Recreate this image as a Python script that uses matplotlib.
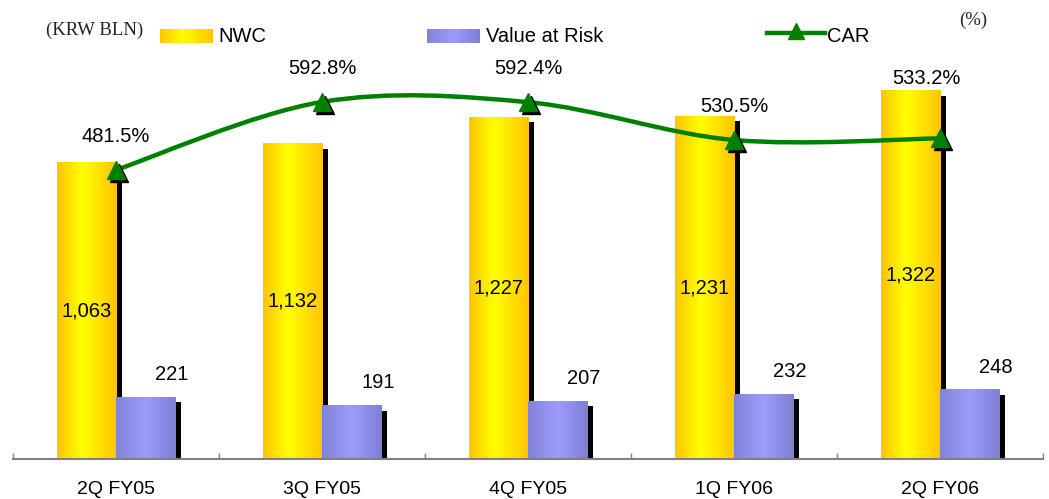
import numpy as np
import matplotlib
matplotlib.use('Agg')
import matplotlib.pyplot as plt
from matplotlib.path import Path
from matplotlib.patches import PathPatch
from matplotlib.transforms import ScaledTranslation
from matplotlib.colors import LinearSegmentedColormap

categories = ['2Q FY05', '3Q FY05', '4Q FY05', '1Q FY06', '2Q FY06']
nwc = [1063, 1132, 1227, 1231, 1322]
var = [221, 191, 207, 232, 248]
car = [481.5, 592.8, 592.4, 530.5, 533.2]
series_names = ['NWC', 'Value at Risk', 'CAR']

FONT = 'Liberation Sans'
FS = 14.5
plt.rcParams['font.family'] = [FONT, 'DejaVu Sans']

nwc_cmap = LinearSegmentedColormap.from_list(
    'nwc', [(0.0, '#FFC400'), (0.42, '#FFFF00'), (1.0, '#FFC400')])
var_cmap = LinearSegmentedColormap.from_list(
    'var', [(0.0, '#8282D8'), (0.5, '#9C9CFF'), (1.0, '#7E7ED2')])
green = '#008000'

W, H = 1049, 499
fig = plt.figure(figsize=(W / 100, H / 100), dpi=100)
ax = fig.add_axes([13 / W, 40 / H, 1030 / W, 417.7 / H])

x = np.arange(len(categories))
bw = 0.287
shadow = ScaledTranslation(6 / 100, -5 / 100, fig.dpi_scale_trans)

# shadows
ax.bar(x - bw / 2, nwc, bw, color='black', zorder=1, transform=ax.transData + shadow)
ax.bar(x + bw / 2, var, bw, color='black', zorder=3, transform=ax.transData + shadow)
# bars (geometry) + gradients
b1 = ax.bar(x - bw / 2, nwc, bw, color='none', zorder=2)
b2 = ax.bar(x + bw / 2, var, bw, color='none', zorder=4)
grad = np.linspace(0, 1, 256).reshape(1, -1)
for rects, cmap, z in ((b1, nwc_cmap, 2), (b2, var_cmap, 4)):
    for r in rects:
        ax.imshow(grad, cmap=cmap, aspect='auto', interpolation='bicubic',
                  extent=(r.get_x(), r.get_x() + r.get_width(), 0, r.get_height()),
                  zorder=z)

for r, v in zip(b1, nwc):
    ax.text(r.get_x() + r.get_width() / 2, v / 2, f'{v:,}', ha='center', va='center',
            fontsize=FS, zorder=6)
for r, v in zip(b2, var):
    ax.annotate(f'{v:,}', (r.get_x() + r.get_width() / 2, v), xytext=(19, 16.5),
                textcoords='offset points', ha='center', va='center', fontsize=FS, zorder=6)

ax.set_xlim(-0.5, len(categories) - 0.5)
ax.set_ylim(0, 1500)
ax.set_xticks(x)
ax.set_xticklabels(categories, fontsize=14)
ax.set_xticks(np.arange(len(categories) + 1) - 0.5, minor=True)
ax.tick_params(axis='x', which='major', length=0, pad=16)
ax.tick_params(axis='x', which='minor', direction='in', length=4.5, color='#808080', width=1)
ax.set_yticks([])
for s in ('left', 'right', 'top'):
    ax.spines[s].set_visible(False)
ax.spines['bottom'].set_color('#808080')
ax.spines['bottom'].set_linewidth(1.5)
ax.spines['bottom'].set_zorder(5)

# CAR on secondary axis
ax2 = ax.twinx()
ax2.set_ylim(8.5, 692)
ax2.set_yticks([])
for s in ax2.spines.values():
    s.set_visible(False)

pts = np.column_stack([x, car]).astype(float)
verts = [tuple(pts[0])]
codes = [Path.MOVETO]
n = len(pts)
for i in range(n - 1):
    p0 = pts[i - 1] if i > 0 else pts[i]
    p1 = pts[i]
    p2 = pts[i + 1]
    p3 = pts[i + 2] if i + 2 < n else pts[i + 1]
    c1 = p1 + (p2 - p0) / 6
    c2 = p2 - (p3 - p1) / 6
    verts += [tuple(c1), tuple(c2), tuple(p2)]
    codes += [Path.CURVE4] * 3
ax2.add_patch(PathPatch(Path(verts, codes), facecolor='none', edgecolor=green,
                        lw=3.2, zorder=3))
mshadow = ScaledTranslation(3 / 100, -3 / 100, fig.dpi_scale_trans)
ax2.plot(x, car, ls='none', marker='^', ms=13, color='black', zorder=4,
         transform=ax2.transData + mshadow)
ax2.plot(x, car, ls='none', marker='^', ms=13, color=green, mec=green, zorder=5)

car_offsets = [24, 24, 24, 24, 43]
car_dx = [0, 0, 0, 0, -10]
for xi, v, oy, ox in zip(x, car, car_offsets, car_dx):
    ax2.annotate(f'{v:.1f}%', (xi, v), xytext=(ox, oy), textcoords='offset points',
                 ha='center', va='center', fontsize=FS)

# legend / header overlay in pixel coordinates
lax = fig.add_axes([0, 0, 1, 1])
lax.axis('off')
lax.patch.set_alpha(0)
lax.imshow(grad, cmap=nwc_cmap, aspect='auto', interpolation='bicubic',
           extent=(160, 213, 43, 29))
lax.text(218, 36, series_names[0], fontsize=FS, va='center', ha='left')
lax.imshow(grad, cmap=var_cmap, aspect='auto', interpolation='bicubic',
           extent=(427, 480, 43, 29))
lax.text(486, 36, series_names[1], fontsize=FS, va='center', ha='left')
lax.plot([767, 825], [33, 33], color=green, lw=3.2)
lax.plot([796], [31], marker='^', ms=12, color=green)
lax.text(827, 36, series_names[2], fontsize=FS, va='center', ha='left')
lax.text(95, 30, '(KRW BLN)', fontsize=13.5, va='center', ha='center',
         family=['Liberation Serif', 'DejaVu Serif'], color='#222222')
lax.text(973, 20, '(%)', fontsize=13.5, va='center', ha='center',
         family=['Liberation Serif', 'DejaVu Serif'], color='#222222')
lax.set_xlim(0, W)
lax.set_ylim(H, 0)

fig.savefig('out.png', dpi=100)
